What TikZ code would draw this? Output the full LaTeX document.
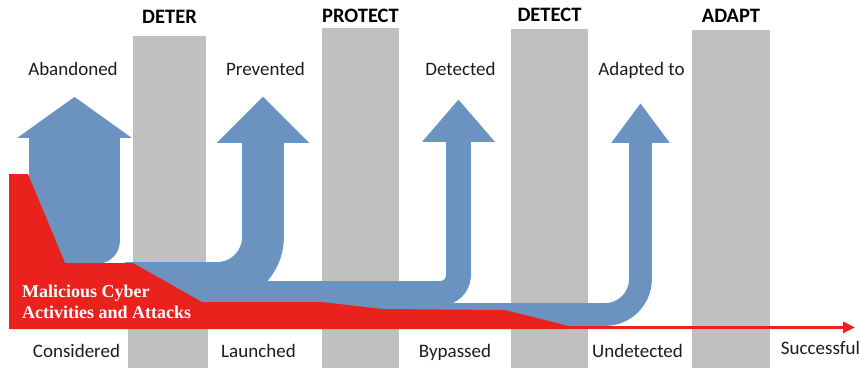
\documentclass[tikz,border=0pt]{standalone}
\usepackage{fontspec}
\setmainfont{Carlito}
\newfontfamily\captionserif{Liberation Serif}
\usetikzlibrary{arrows.meta}
\definecolor{flowblue}{RGB}{108,146,192}
\definecolor{flowedge}{RGB}{98,152,210}
\definecolor{stagegray}{RGB}{192,192,192}
\definecolor{threatred}{RGB}{233,34,30}
\definecolor{labelink}{RGB}{28,28,28}
\begin{document}
\begin{tikzpicture}[x=1pt,y=-1pt,
  stage/.style={fill=stagegray},
  title/.style={font=\fontsize{20.5}{24}\selectfont\bfseries, text=black, anchor=base, inner sep=0pt},
  outcome/.style={font=\fontsize{19}{22}\selectfont, text=labelink, anchor=base, inner sep=0pt},
  threat/.style={font=\captionserif\bfseries\fontsize{18}{21}\selectfont, text=white, anchor=base west, inner sep=0pt},
  flowedgeline/.style={draw=flowedge, line width=1.8pt, line join=miter},
  % abandoned: straight up arrow with a rounded lower right corner
  abandonpath/.style={insert path={(30,263) -- (30,137) -- (20,137) -- (74.5,98) -- (129,137) -- (119,137) -- (119,241)
      .. controls (119,253.1) and (109.1,263) .. (97,263) -- cycle}},
  % prevented: bent-up arrow, band 40 wide
  preventpath/.style={insert path={(126,263) -- (217,263) .. controls (231.4,263) and (243,251.4) .. (243,237)
      -- (243,142) -- (219,142) -- (263,98) -- (307,142) -- (283,142) -- (283,237)
      .. controls (283,273.5) and (253.5,303) .. (217,303) -- (126,303) -- cycle}},
  % detected: bent-up arrow, band 23 wide
  detectpath/.style={insert path={(200,282) -- (440,282) .. controls (443.9,282) and (447,278.9) .. (447,275)
      -- (447,141) -- (424,141) -- (458.5,101) -- (493,141) -- (470,141) -- (470,275)
      .. controls (470,291.6) and (456.6,305) .. (440,305) -- (200,305) -- cycle}},
  % adapted to: bent-up arrow, band 21 wide
  adaptpath/.style={insert path={(330,304) -- (605,304) .. controls (618.8,304) and (630,292.8) .. (630,279)
      -- (630,142) -- (613,142) -- (640.5,105) -- (668,142) -- (651,142) -- (651,279)
      .. controls (651,304.4) and (630.4,325) .. (605,325) -- (330,325) -- cycle}},
]
\useasboundingbox (0,0) rectangle (860,368);

% stage columns
\fill[stage] (133,36) rectangle (206,300);
\fill[stage] (128,300) rectangle (208,368);
\fill[stage] (322,28) rectangle (399,368);
\fill[stage] (511,29) rectangle (588,368);
\fill[stage] (692,30) rectangle (770,368);

% outcome arrows: outlines first, then fills so inner seams vanish
\path[flowedgeline, adaptpath];
\path[flowedgeline, detectpath];
\path[flowedgeline, preventpath];
\path[flowedgeline, abandonpath];
\fill[flowblue, adaptpath];
\fill[flowblue, detectpath];
\fill[flowblue, preventpath];
\fill[flowblue, abandonpath];

% volume of malicious activity
\fill[threatred] (9,174) -- (28,174) -- (65,263) -- (133,263) -- (202,302) -- (322,302) -- (382,309)
  -- (505,310) -- (567,325.5) -- (567,329.2) -- (9,329.2) -- cycle;
\coordinate (redend) at (560,327.4);
\coordinate (redtip) at (855,327.4);
\draw[threatred, line width=3.6pt, -{Triangle[length=12pt,width=11pt]}] (redend) -- (redtip);

% stage titles
\node[title] (tdeter) at (169.5,23) {DETER};
\node[title] (tprotect) at (360.5,22) {PROTECT};
\node[title] (tdetect) at (549.5,21.5) {DETECT};
\node[title] (tadapt) at (731,22) {ADAPT};

% outcomes above
\node[outcome] (oaband) at (73,75) {Abandoned};
\node[outcome] (oprev) at (265.5,75) {Prevented};
\node[outcome] (odet) at (460.5,75) {Detected};
\node[outcome] (oadapt) at (641.5,75) {Adapted to};

% outcomes below
\node[outcome] (ocons) at (76.5,357) {Considered};
\node[outcome] (olaunch) at (258.5,357) {Launched};
\node[outcome] (obyp) at (455,357) {Bypassed};
\node[outcome] (oundet) at (637.5,357) {Undetected};
\node[outcome] (osucc) at (820.5,354) {Successful};

% caption inside the red band
\node[threat] (cap1) at (22,297.7) {Malicious Cyber};
\node[threat] (cap2) at (22,318) {Activities and Attacks};
\end{tikzpicture}
\end{document}
